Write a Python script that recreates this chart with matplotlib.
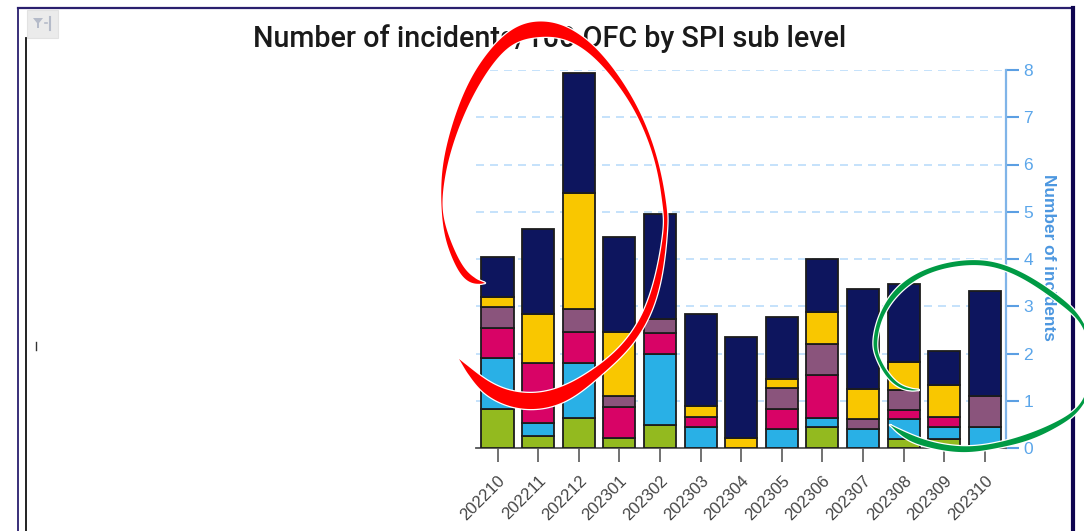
import numpy as np
import matplotlib
matplotlib.use("Agg")
import matplotlib.pyplot as plt
from matplotlib.patches import Polygon, Rectangle
from matplotlib.transforms import ScaledTranslation

plt.rcParams['font.family'] = ['Liberation Sans', 'DejaVu Sans']

periods = ['202210', '202211', '202212', '202301', '202302', '202303', '202304',
           '202305', '202306', '202307', '202308', '202309', '202310']
green = [.83, .25, .64, .21, .48, 0, 0, 0, .44, 0, .18, .20, 0]
blue = [1.08, .27, 1.16, 0, 1.52, .44, 0, .40, .20, .40, .44, .24, .44]
magenta = [.62, 1.28, .66, .66, .44, .22, 0, .43, .90, 0, .19, .22, 0]
purple = [.45, 0, .49, .24, .30, 0, 0, .43, .67, .22, .41, 0, .66]
yellow = [.22, 1.03, 2.45, 1.35, 0, .22, .22, .19, .66, .62, .60, .67, 0]
navy = [.84, 1.81, 2.54, 2.01, 2.21, 1.96, 2.12, 1.32, 1.12, 2.12, 1.65, .72, 2.22]
series = [(green, '#93BA1F'), (blue, '#29B0E6'), (magenta, '#D80366'),
          (purple, '#8A547C'), (yellow, '#F9C700'), (navy, '#0D155E')]
y_ticks = [0, 1, 2, 3, 4, 5, 6, 7, 8]

W, H = 1084, 531
fig = plt.figure(figsize=(W / 100, H / 100), dpi=100, facecolor='white')
ax = fig.add_axes([476 / W, 1 - 448 / H, 530 / W, 378 / H])

x = np.arange(len(periods))
bottom = np.zeros(len(periods))
for vals, col in series:
    v = np.array(vals, dtype=float)
    m = v > 0
    ax.bar(x[m], v[m], bottom=bottom[m], width=0.79, color=col,
           edgecolor='#1c1c1c', linewidth=1.3, zorder=3)
    bottom += v

ax.set_xlim(-0.53, 12.52)
ax.set_ylim(0, 8)
ax.yaxis.tick_right()
ax.yaxis.set_label_position('right')
ax.set_yticks(y_ticks)
ax.set_xticks(x)
ax.set_xticklabels(periods, rotation=45, ha='right', va='top',
                   rotation_mode='anchor', fontsize=12, color='#444444')
shift = ScaledTranslation(-5 / 100, 0, fig.dpi_scale_trans)
for lab in ax.get_xticklabels():
    lab.set_transform(lab.get_transform() + shift)
ax.tick_params(axis='x', length=10, width=1.3, color='#666666', pad=8)
ax.tick_params(axis='y', length=9.4, width=1.5, color='#5B9FE3',
               labelcolor='#5BA6EA', labelsize=12.5, pad=3)
ax.yaxis.grid(True, color='#BBDDFB', linewidth=1.2, linestyle=(0, (4.8, 3.6)), zorder=0)
ax.set_axisbelow(True)
for s in ('top', 'left'):
    ax.spines[s].set_visible(False)
ax.spines['right'].set_color('#7FB4E8')
ax.spines['right'].set_linewidth(1.6)
ax.spines['bottom'].set_color('#555555')
ax.spines['bottom'].set_linewidth(1.3)
ax.set_ylabel('Number of incidents', rotation=270, fontsize=12.4, fontweight='bold',
              color='#4C97E0', labelpad=0)
ax.yaxis.set_label_coords((1049 - 476) / 530, (448 - 257) / 378)
ax.yaxis.label.set_va('center')

# overlay in pixel space for the page frame and the hand-drawn annotations
ov = fig.add_axes([0, 0, 1, 1], zorder=5)
ov.set_xlim(0, W)
ov.set_ylim(H, 0)
ov.axis('off')
ov.patch.set_alpha(0)

ov.plot([18, 1073], [8, 8], color='#2A1F6E', lw=1.6)
ov.plot([18, 18], [8, H], color='#2A1F6E', lw=1.3)
ov.plot([26, 26], [38, H], color='#111111', lw=1.3)
ov.plot([1073, 1073], [8, H], color='#0F0550', lw=3)
ov.plot([36, 36], [342, 350], color='#333333', lw=1)
ov.add_patch(Rectangle((27, 10), 31, 28, facecolor='#EBEBEB', edgecolor='#E2E2E2', lw=0.8))
ov.add_patch(Polygon([(33, 18), (43, 18), (39, 23), (39, 28), (37, 28), (37, 23)],
                     closed=True, facecolor='#B5BBC9', edgecolor='none'))
ov.plot([50, 50], [17, 30], color='#B5BBC9', lw=1.5)
ov.plot([45, 47], [23, 23], color='#B5BBC9', lw=1.2)

ov.text(550, 39, 'Number of incidents/100 OFC by SPI sub level', ha='center', va='center',
        fontsize=20.7, family=['Roboto', 'DejaVu Sans'], fontweight='medium',
        color='#1a1a1a', zorder=1)


def spline(pts, n=12, window=7):
    p = np.array(pts, dtype=float)
    p = np.vstack([2 * p[0] - p[1], p, 2 * p[-1] - p[-2]])
    out = []
    for i in range(1, len(p) - 2):
        for t in np.linspace(0, 1, n, endpoint=False):
            a, b, c, d = p[i - 1], p[i], p[i + 1], p[i + 2]
            out.append(0.5 * (2 * b + (c - a) * t + (2 * a - 5 * b + 4 * c - d) * t ** 2
                              + (3 * b - a - 3 * c + d) * t ** 3))
    out.append(p[-2])
    c = np.array(out)
    # smooth away reading jitter, keeping the tips fixed
    s = c.copy()
    for i in range(1, len(c) - 1):
        w = min(i, len(c) - 1 - i, window)
        s[i] = c[i - w:i + w + 1].mean(axis=0)
    return s


red_outer = [(485, 283), (475, 284), (462, 277), (450, 253), (443, 227), (441, 190), (445, 150),
             (463, 93), (487, 53), (513, 28), (538, 21), (563, 25), (590, 42), (617, 73),
             (643, 117), (660, 167), (667, 210), (667, 230), (660, 290), (637, 340), (603, 373),
             (567, 402), (530, 410), (500, 403), (477, 387), (459, 359)]
red_inner = [(459, 359), (473, 370), (497, 387), (530, 394), (563, 387), (597, 367), (630, 337),
             (653, 290), (664, 230), (663, 210), (657, 167), (640, 120), (617, 83), (590, 53),
             (563, 38), (538, 37), (513, 43), (490, 67), (467, 107), (450, 153), (443, 190),
             (443, 217), (453, 247), (467, 273), (485, 283)]
green_outer = [(919, 390), (904, 390), (887, 378), (876, 357), (873, 340), (881, 310), (901, 283),
               (931, 267), (964, 260), (997, 262), (1031, 277), (1064, 300), (1084, 322),
               (1098, 365), (1084, 405), (1064, 423), (1031, 440), (997, 448), (964, 453),
               (931, 448), (907, 440), (890, 425)]
green_inner = [(890, 425), (907, 433), (931, 442), (964, 447), (997, 443), (1031, 433), (1064, 418),
               (1084, 400), (1092, 365), (1084, 327), (1064, 307), (1031, 283), (997, 267),
               (964, 265), (931, 272), (904, 288), (884, 313), (877, 340), (879, 357), (891, 377),
               (904, 387), (919, 390)]

for outer, inner, col in [(red_outer, red_inner, '#FF0000'), (green_outer, green_inner, '#009A44')]:
    poly = np.vstack([spline(outer), spline(inner)])
    ov.add_patch(Polygon(poly, closed=True, facecolor='white', edgecolor='white', lw=1.8,
                         joinstyle='round', zorder=6))
    ov.add_patch(Polygon(poly, closed=True, facecolor=col, edgecolor='none', zorder=7))

fig.savefig('out.png', dpi=100)
